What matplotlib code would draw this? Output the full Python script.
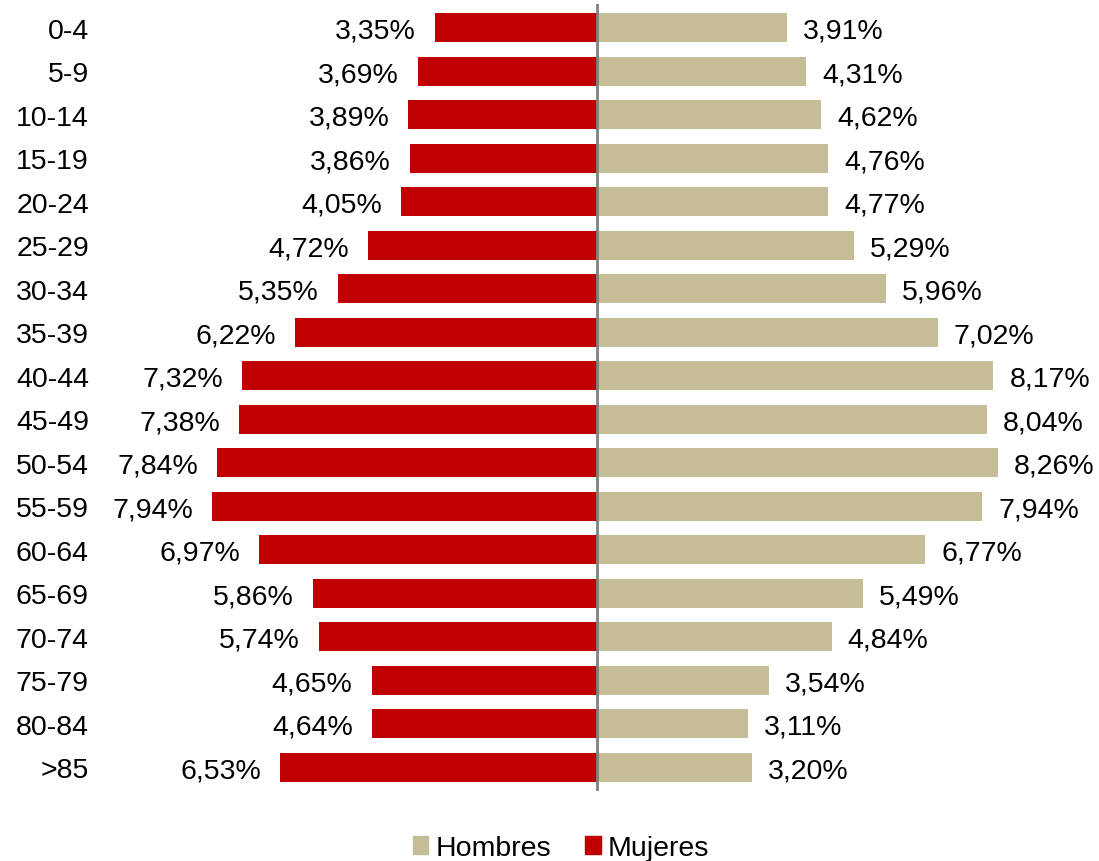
import numpy as np
import matplotlib
matplotlib.use('Agg')
import matplotlib.pyplot as plt
from matplotlib.patches import Patch

plt.rcParams['font.family'] = ['Liberation Sans', 'DejaVu Sans']

grupos = ['0-4', '5-9', '10-14', '15-19', '20-24', '25-29', '30-34', '35-39',
          '40-44', '45-49', '50-54', '55-59', '60-64', '65-69', '70-74',
          '75-79', '80-84', '>85']
mujeres = [3.35, 3.69, 3.89, 3.86, 4.05, 4.72, 5.35, 6.22, 7.32, 7.38,
           7.84, 7.94, 6.97, 5.86, 5.74, 4.65, 4.64, 6.53]
hombres = [3.91, 4.31, 4.62, 4.76, 4.77, 5.29, 5.96, 7.02, 8.17, 8.04,
           8.26, 7.94, 6.77, 5.49, 4.84, 3.54, 3.11, 3.20]

c_muj = '#C00000'
c_hom = '#C4BD97'


def fmt(v):
    return f"{v:.2f}".replace('.', ',') + '%'


fig = plt.figure(figsize=(10.99, 8.62), dpi=100)
ax = fig.add_axes([100 / 1099, 70 / 862, 999 / 1099, 787 / 862])

y = np.arange(len(grupos))
ax.barh(y, [-m for m in mujeres], height=0.67, color=c_muj)
ax.barh(y, hombres, height=0.67, color=c_hom)
ax.axvline(0, color='#808080', linewidth=2)

for i in range(len(grupos)):
    ax.annotate(fmt(mujeres[i]), (-mujeres[i], i), xytext=(-19, 0),
                textcoords='offset pixels', ha='right', va='center_baseline', fontsize=20.5)
    ax.annotate(fmt(hombres[i]), (hombres[i], i), xytext=(16, 0),
                textcoords='offset pixels', ha='left', va='center_baseline', fontsize=20.5)

ax.set_xlim(-10.25, 10.35)
ax.set_ylim(len(grupos) - 0.45, -0.55)
ax.set_yticks(y)
ax.set_yticklabels(grupos, fontsize=20.5)
ax.tick_params(axis='y', length=0, pad=8)
ax.set_xticks([])
for s in ax.spines.values():
    s.set_visible(False)

handles = [Patch(color=c_hom, label='Hombres'), Patch(color=c_muj, label='Mujeres')]
fig.legend(handles=handles, loc='center', bbox_to_anchor=(561 / 1099, 1 - 849 / 862),
           ncol=2, frameon=False, fontsize=20.5, handlelength=0.55, handleheight=0.55,
           handletextpad=0.25, columnspacing=1.2)

fig.savefig('out.png', dpi=100)
